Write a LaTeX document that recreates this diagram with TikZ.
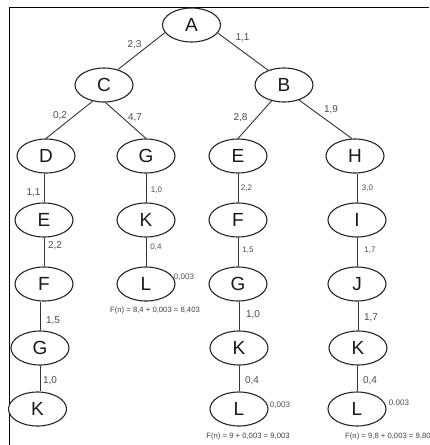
\documentclass[tikz,border=0pt]{standalone}
\usepackage{fontspec}
\setmainfont{Liberation Sans}
\usetikzlibrary{shapes.geometric}
\begin{document}
\begin{tikzpicture}[x=1pt,y=-1pt,
  state/.style={ellipse,draw=black!85,line width=1.1pt,fill=white,
    minimum width=58pt,minimum height=34pt,inner sep=0pt,
    font=\fontsize{19}{19}\selectfont,text=black!90},
  link/.style={draw=black!80,line width=0.9pt},
  cost/.style={font=\fontsize{10}{10}\selectfont,text=black!70,inner sep=0pt},
  hcost/.style={font=\fontsize{8}{8}\selectfont,text=black!70,inner sep=0pt},
  total/.style={font=\fontsize{7.7}{8}\selectfont,text=black!75,inner sep=0pt}]
\useasboundingbox (0,0) rectangle (429,445);

% frame (top and left sides)
\draw[line width=1pt,black] (429,7) -- (9,7) -- (9,445);

% search tree nodes
\node[state] (a)  at (191.5,25) {A};
\node[state] (c)  at (104,85)   {C};
\node[state] (b)  at (284,85)   {B};

\node[state] (d)  at (46,156)   {D};
\node[state] (e1) at (44,220)   {E};
\node[state] (f1) at (44,284)   {F};
\node[state] (g1) at (40,348)   {G};
\node[state] (k1) at (37.5,409) {K};

\node[state] (g2) at (146,156)  {G};
\node[state] (k2) at (146,220)  {K};
\node[state] (l2) at (146,284)  {L};

\node[state] (e3) at (238,156)  {E};
\node[state] (f3) at (238,220)  {F};
\node[state] (g3) at (238,284)  {G};
\node[state] (k3) at (239,348)  {K};
\node[state] (l3) at (239,409)  {L};

\node[state] (h4) at (355,156)  {H};
\node[state] (i4) at (357,220)  {I};
\node[state] (j4) at (357,284)  {J};
\node[state] (k4) at (358,348)  {K};
\node[state] (l4) at (357,409)  {L};

% diagonal branches
\draw[link] (a.196) -- (c.48);
\draw[link] (a.343) -- (b.137);
\draw[link] (c.235) -- (d.north);
\draw[link] (c.275) -- (g2.north);
\draw[link] (b.232) -- (e3.north);
\draw[link] (b.315) -- (h4.100);

% vertical chains
\draw[link] (e1.north) -- (e1.north |- d.south);
\draw[link] (f1.north) -- (f1.north |- e1.south);
\draw[link] (g1.north) -- (g1.north |- f1.south);
\draw[link] (g1.south) -- (g1.south |- k1.north);

\draw[link] (k2.north) -- (k2.north |- g2.south);
\draw[link] (l2.north) -- (l2.north |- k2.south);

\draw[link] (f3.north) -- (f3.north |- e3.south);
\draw[link] (g3.north) -- (g3.north |- f3.south);
\draw[link] (k3.north) -- (k3.north |- g3.south);
\draw[link] (l3.north) -- (l3.north |- k3.south);

\draw[link] (i4.north) -- (i4.north |- h4.south);
\draw[link] (j4.north) -- (j4.north |- i4.south);
\draw[link] (k4.north) -- (k4.north |- j4.south);
\draw[link] (l4.north) -- (l4.north |- k4.south);

% branch costs
\node[cost] (wac) at (134.5,45) {2,3};
\node[cost] (wab) at (242.5,38) {1,1};
\node[cost] (wcd) at (60,116)   {0,2};
\node[cost] (wcg) at (135,118)  {4,7};
\node[cost] (wbe) at (240.5,118){2,8};
\node[cost] (wbh) at (331,110)  {1,9};

\node[cost] (wde) at (33.5,193) {1,1};
\node[cost] (wef) at (55,246)   {2,2};
\node[cost] (wfg) at (53,321)   {1,5};
\node[cost] (wgk) at (50,381)   {1,0};

\node[hcost] (wgk2) at (156.5,190) {1,0};
\node[hcost] (wkl2) at (156,247)   {0,4};
\node[hcost] (hl2)  at (184,277)   {0,003};
\node[total] (fn2)  at (155,311)   {F(n) = 8,4 + 0,003 = 8,403};

\node[hcost] (wef3) at (246.5,188) {2,2};
\node[hcost] (wfg3) at (248,250)   {1,5};
\node[cost]  (wgk3) at (253,315)   {1,0};
\node[cost]  (wkl3) at (252,381)   {0,4};
\node[hcost] (hl3)  at (280,405)   {0,003};
\node[total] (fn3)  at (248,437)   {F(n) = 9 + 0,003 = 9,003};

\node[hcost] (whi4) at (367.5,188) {3,0};
\node[hcost] (wij4) at (370,250)   {1,7};
\node[cost]  (wjk4) at (371,318)   {1,7};
\node[cost]  (wkl4) at (370,381)   {0,4};
\node[hcost] (hl4)  at (399,403)   {0.003};
\node[total,anchor=west] (fn4) at (345,437) {F(n) = 9,8 + 0,003 = 9,803};
\end{tikzpicture}
\end{document}
